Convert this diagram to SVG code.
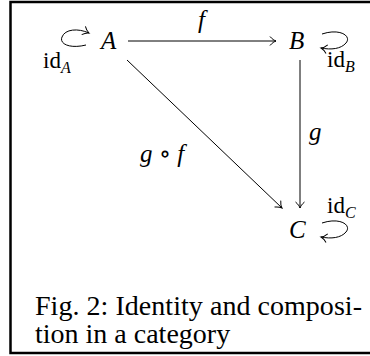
<svg xmlns="http://www.w3.org/2000/svg" width="370" height="356" viewBox="0 0 370 356">
<style>
text{font-family:'Liberation Serif','Times New Roman',Times,'DejaVu Serif',serif;fill:#000}
.m{font-style:italic;font-size:25px}
.r{font-size:23px}
.s{font-style:italic;font-size:16px}
.cap{font-size:28px}
.e{fill:none;stroke:#000;stroke-width:1}
</style>
<defs>
<marker id="ah" viewBox="-8 -6 10 12" refX="0" refY="0" markerWidth="10" markerHeight="12" orient="auto" markerUnits="userSpaceOnUse" overflow="visible">
<path d="M-6,-4.5 C-4,-2 -1.5,-0.5 0,0 C-1.5,0.5 -4,2 -6,4.5" fill="none" stroke="#000" stroke-width="1"/>
</marker>
</defs>
<rect width="370" height="356" fill="#fff"/>
<path d="M372,2 H10.5 V353 H372" fill="none" stroke="#000" stroke-width="2.5"/>
<g id="connectors">
<line class="e" x1="128" y1="41" x2="276" y2="41" marker-end="url(#ah)"/>
<line class="e" x1="300" y1="60" x2="300" y2="208" marker-end="url(#ah)"/>
<line class="e" x1="127" y1="60" x2="282" y2="208" marker-end="url(#ah)"/>
<path class="e" d="M86,45 C70,49 59,44 62,37 C65,29 78,28 89,33" marker-end="url(#ah)"/>
<path class="e" d="M322,34 C340,28 352,36 346,43 C341,49 331,50 321,48" marker-end="url(#ah)"/>
<path class="e" d="M322,223 C340,217 352,225 346,232 C341,238 331,239 321,237" marker-end="url(#ah)"/>
<text class="m" x="198" y="28">f</text>
<text class="m" x="309" y="140">g</text>
<text class="m" x="140" y="162">g ∘ f</text>
</g>
<g id="nodeA"><text class="m" x="101" y="49">A</text><text class="r" x="43" y="68">id<tspan class="s" dy="5">A</tspan></text></g>
<g id="nodeB"><text class="m" x="289" y="49">B</text><text class="r" x="327" y="67">id<tspan class="s" dy="5">B</tspan></text></g>
<g id="nodeC"><text class="m" x="289" y="238">C</text><text class="r" x="327" y="213">id<tspan class="s" dy="5">C</tspan></text></g>
<g id="caption">
<text class="cap" x="35" y="315" textLength="327" lengthAdjust="spacing">Fig. 2: Identity and composi-</text>
<text class="cap" x="35" y="343">tion in a category</text>
</g>
</svg>
